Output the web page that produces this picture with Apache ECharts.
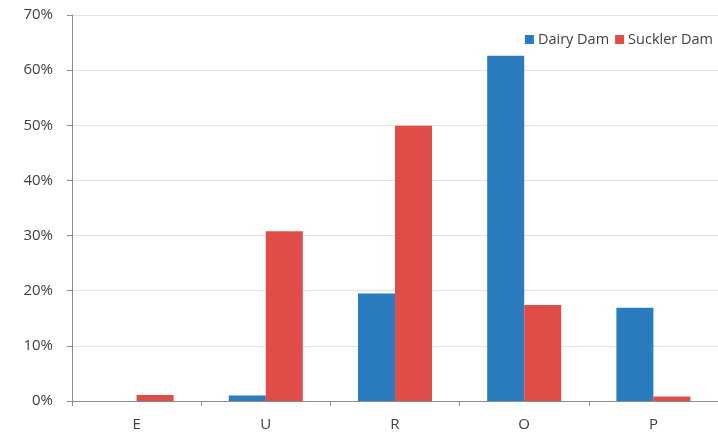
<!DOCTYPE html>
<html>
<head>
<meta charset="utf-8">
<script src="https://cdn.jsdelivr.net/npm/echarts@6/dist/echarts.min.js"></script>
<style>
  html, body { margin: 0; padding: 0; background: #fff; }
  #chart { width: 718px; height: 435px; }
</style>
</head>
<body>
<div id="chart"></div>
<script>
// 数据
const categories = ['E', 'U', 'R', 'O', 'P']
const dairyDam = [0, 1.0, 19.5, 62.6, 16.9]
const sucklerDam = [1.1, 30.8, 49.9, 17.4, 0.8]
const yTicks = [0, 10, 20, 30, 40, 50, 60, 70]

const chart = echarts.init(document.getElementById('chart'))

const axisGray = '#8c8c8c'
const labelColor = '#404040'
const font = "'Open Sans', 'Liberation Sans', sans-serif"

const option = {
  animation: false,
  color: ['#2b7bbf', '#e04c48'],
  textStyle: { fontFamily: font },
  legend: {
    right: 0,
    top: 27,
    itemWidth: 9,
    itemHeight: 9,
    itemGap: 6,
    icon: 'rect',
    textStyle: { fontSize: 14.5, color: labelColor, fontFamily: font, padding: [0, 0, 0, -1] },
    data: ['Dairy Dam', 'Suckler Dam']
  },
  grid: {
    left: 72,
    top: 15,
    width: 652,
    bottom: 34
  },
  xAxis: {
    type: 'category',
    data: categories,
    axisLine: { lineStyle: { color: axisGray } },
    axisTick: { show: true, length: 5, alignWithLabel: false, lineStyle: { color: axisGray } },
    axisLabel: { fontSize: 15, color: labelColor, margin: 16 }
  },
  yAxis: {
    type: 'value',
    min: 0,
    max: yTicks[yTicks.length - 1],
    interval: 10,
    axisLine: { show: true, lineStyle: { color: axisGray } },
    axisTick: { show: true, length: 5, lineStyle: { color: axisGray } },
    axisLabel: { fontSize: 15, color: labelColor, margin: 19, formatter: (v) => v + '%' },
    splitLine: { lineStyle: { color: '#e3e3e3' } }
  },
  series: [
    {
      name: 'Dairy Dam',
      type: 'bar',
      data: dairyDam,
      barWidth: 37,
      barGap: '0%'
    },
    {
      name: 'Suckler Dam',
      type: 'bar',
      data: sucklerDam,
      barWidth: 37,
      barGap: '0%'
    }
  ]
}

chart.setOption(option)
</script>
</body>
</html>
